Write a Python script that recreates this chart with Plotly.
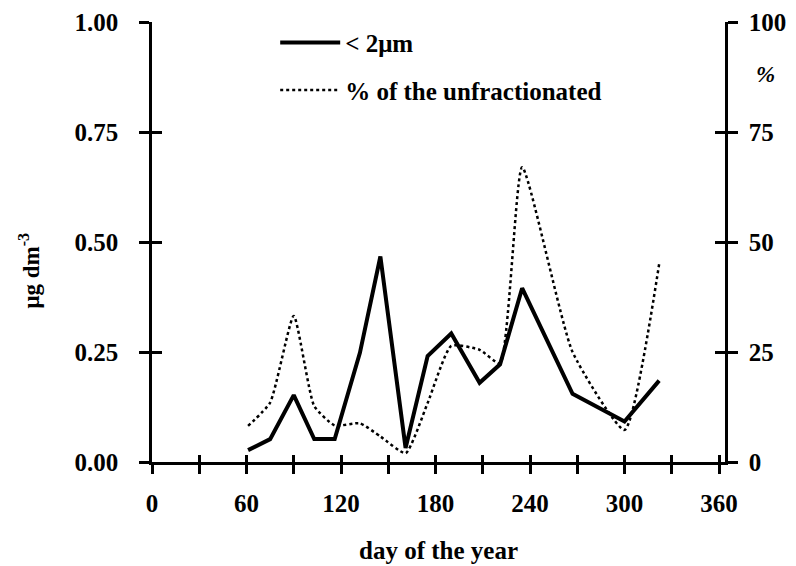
import plotly.graph_objects as go

days = [61, 75, 90, 103, 116, 132, 145, 161, 175, 190, 208, 221, 235, 267, 300, 322]
conc = [0.027, 0.052, 0.152, 0.052, 0.052, 0.248, 0.467, 0.032, 0.241, 0.292, 0.180, 0.222, 0.395, 0.155, 0.092, 0.185]
pct = [8.2, 13.5, 33.2, 12.7, 8.3, 8.8, 5.8, 2.0, 13.4, 26.4, 25.5, 22.4, 67.0, 25.0, 7.3, 45.0]

x_ticks = [0, 60, 120, 180, 240, 300, 360]
y_ticks = [0, 0.25, 0.5, 0.75, 1.0]
y_ticklabels = ["0.00", "0.25", "0.50", "0.75", "1.00"]
y2_ticks = [0, 25, 50, 75, 100]

FONT = "Liberation Serif"
fig = go.Figure()
fig.add_trace(go.Scatter(x=days, y=conc, mode="lines", name="< 2μm", legendgroup="a",
                         line=dict(color="black", width=4)))
fig.add_trace(go.Scatter(x=days, y=pct, mode="lines", name="% of the unfractionated",
                         legendgroup="b",
                         yaxis="y2", line=dict(color="black", width=2.5, dash="dot",
                                               shape="spline", smoothing=0.5)))

XR = [0, 363.8]
axis_common = dict(showgrid=False, zeroline=False, linecolor="black", linewidth=2.5,
                   tickcolor="black", tickwidth=2.5, automargin=False)
tfont = dict(family=FONT, size=25, color="black", weight="bold")

fig.update_layout(
    width=796, height=566,
    margin=dict(l=152, r=71, t=22, b=104),
    plot_bgcolor="white", paper_bgcolor="white",
    showlegend=True,
    legend=dict(x=0.215, y=1.005, xanchor="left", yanchor="top",
                font=dict(family=FONT, size=25, color="black", weight="bold"),
                traceorder="grouped", tracegroupgap=12,
                bgcolor="rgba(0,0,0,0)", itemwidth=60),
    xaxis=dict(range=XR, tickvals=x_ticks, ticks="outside", ticklen=9,
               tickfont=tfont, showline=True, ticklabelstandoff=8,
               minor=dict(dtick=30, tick0=0, ticks="outside", ticklen=9,
                          tickcolor="black", tickwidth=2.5),
               title=dict(text="day of the year", font=dict(family=FONT, size=25, color="black", weight="bold"),
                          standoff=26),
               **axis_common),
    xaxis2=dict(range=XR, overlaying="x", tickvals=list(range(0, 361, 30)), ticks="inside",
                ticklen=7, showticklabels=False, showline=False, anchor="y",
                showgrid=False, zeroline=False, tickcolor="black", tickwidth=2.5),
    yaxis=dict(range=[0, 1.0], tickvals=y_ticks, ticktext=y_ticklabels, ticks="outside",
               ticklen=10, tickfont=tfont, showline=True, ticklabelstandoff=16,
               **axis_common),
    yaxis2=dict(range=[0, 100], tickvals=y2_ticks, ticks="outside", ticklen=10,
                overlaying="y", side="right", anchor="x", tickfont=tfont, showline=True,
                ticklabelstandoff=6, **axis_common),
    yaxis3=dict(range=[0, 1.0], tickvals=y_ticks, ticks="inside", ticklen=10,
                overlaying="y", side="left", anchor="x", showticklabels=False,
                showline=False, showgrid=False, zeroline=False, tickcolor="black", tickwidth=2.5),
    yaxis4=dict(range=[0, 100], tickvals=y2_ticks, ticks="inside", ticklen=10,
                overlaying="y", side="right", anchor="x", showticklabels=False,
                showline=False, showgrid=False, zeroline=False, tickcolor="black", tickwidth=2.5),
)

# invisible helper traces to activate the overlay tick axes
fig.add_trace(go.Scatter(x=[None], y=[None], xaxis="x2", yaxis="y3", showlegend=False, hoverinfo="skip"))
fig.add_trace(go.Scatter(x=[None], y=[None], xaxis="x2", yaxis="y4", showlegend=False, hoverinfo="skip"))

fig.add_annotation(text="μg dm<sup>-3</sup>", xref="paper", yref="paper",
                   x=-0.213, y=0.435, textangle=-90, showarrow=False,
                   xanchor="center", yanchor="middle",
                   font=dict(family=FONT, size=23, color="black", weight="bold"))
fig.add_annotation(text="<i>%</i>", xref="paper", yref="paper",
                   x=1.07, y=0.88, showarrow=False, xanchor="center", yanchor="middle",
                   font=dict(family=FONT, size=23, color="black", weight="bold"))

fig.write_html("out.html")
